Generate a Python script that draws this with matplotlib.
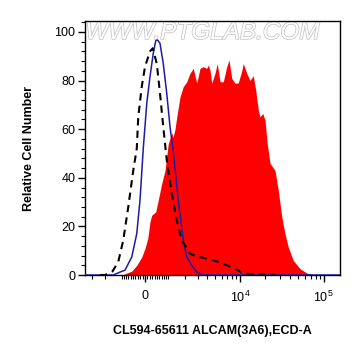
import numpy as np
import matplotlib
matplotlib.use("Agg")
import matplotlib.pyplot as plt
import matplotlib.patheffects as pe
from matplotlib.ticker import MultipleLocator, FixedLocator

plt.rcParams['font.family'] = ['Liberation Sans', 'DejaVu Sans']
plt.rcParams['mathtext.default'] = 'regular'

# histogram data, x in display channels (0-1020), y in % of max
red_ch = [150, 160, 187, 207, 227, 240, 251, 260, 267, 283, 293, 307, 320, 333, 347, 352,
          360, 367, 380, 393, 407, 420, 433, 447, 460, 473, 487, 493, 500, 507, 520, 529,
          540, 553, 567, 576, 587, 600, 613, 627, 633, 647, 660, 673, 683, 693, 700, 711,
          720, 729, 740, 753, 760, 773, 787, 800, 813, 833, 860, 887, 920]
red_val = [0, 0.5, 1.6, 4, 7.4, 11, 15, 22, 24.6, 26, 30.8, 37.7, 43, 54, 58.5, 56.5,
           60, 65, 73.3, 77.5, 79.5, 83, 85, 78.9, 85, 85.7, 85, 86.4, 84.3, 78.9, 83, 87,
           79.5, 79.5, 85.7, 88.5, 80.9, 78.9, 79, 84, 87, 83, 80, 82, 76, 68, 65, 66.5,
           63.7, 54, 46, 44, 43, 35, 24, 17, 11.5, 6, 2.6, 0.8, 0]

blue_ch = [0, 113, 140, 160, 187, 207, 220, 233, 247, 260, 273, 283, 290, 300, 313, 327,
           340, 353, 373, 393, 407, 427, 447, 473, 1020]
blue_val = [0, 0, 1.2, 2, 7.4, 17, 30.8, 52, 70.6, 81.6, 91.2, 96.4, 96.7, 95.3, 87, 74.7,
            61, 51, 30.8, 14.3, 7.4, 4, 1.2, 0, 0]

dash_ch = [60, 80, 110, 133, 153, 173, 193, 207, 213, 227, 240, 260, 271, 287, 300, 313,
           327, 347, 367, 387, 420, 450, 493, 530, 567, 613, 627, 660, 707, 760]
dash_val = [0, 0, 1.5, 5.4, 14.3, 28, 43, 52, 65, 77.5, 85.7, 92, 93.3, 87, 74.7, 61,
            47.3, 33.5, 22.5, 14.3, 8.8, 7.5, 6.7, 5.5, 4, 1.9, 0.8, 0.4, 0.3, 0]

# x axis ticks (fluorescence values) and labels
x_major = [0, 1e4, 1e5]
x_major_labels = ['0', '$10^4$', '$10^5$']
x_minor = ([-v for v in range(100, 1000, 100)] + list(range(100, 1000, 100))
           + [-1000, -2000, -3000] + list(range(1000, 10000, 1000))
           + list(range(20000, 100000, 10000)))


def to_channel(v):
    # biexponential-like display transform
    return 240 + 146 * np.arcsinh(np.asarray(v, dtype=float) / 1494.0)


fig = plt.figure(figsize=(3.61, 3.56), dpi=100)
ax = fig.add_axes([0.2355, 0.2275, 0.7063, 0.7135])

ax.fill_between(red_ch, red_val, 0, color='#ff0000', linewidth=0, zorder=1)
ax.plot(blue_ch, blue_val, color='#1c1ca6', linewidth=1.1, zorder=3)
ax.plot(dash_ch, dash_val, color='black', linewidth=1.5, dashes=(3.5, 2.5), zorder=4)

ax.set_xlim(0, 1020)
ax.set_ylim(0, 104.5)

ax.xaxis.set_major_locator(FixedLocator(to_channel(x_major)))
ax.set_xticklabels(x_major_labels)
ax.xaxis.set_minor_locator(FixedLocator(to_channel(x_minor)))
ax.yaxis.set_major_locator(MultipleLocator(20))
ax.yaxis.set_minor_locator(MultipleLocator(4))

ax.tick_params(axis='both', which='major', labelsize=9, length=5, width=1, color='black')
ax.tick_params(axis='both', which='minor', length=3, width=0.8)
ax.tick_params(axis='x', which='major', pad=6)
ax.tick_params(axis='y', which='major', pad=2)
for s in ax.spines.values():
    s.set_linewidth(1)

ax.set_ylabel('Relative Cell Number', fontsize=9, fontweight='bold', labelpad=14)
ax.set_xlabel('CL594-65611 ALCAM(3A6),ECD-A', fontsize=9, fontweight='bold', labelpad=14)

# watermark
ax.text(0.46, 0.955, 'WWW.PTGLAB.COM', transform=ax.transAxes, ha='center', va='center',
        fontsize=17.5, fontstyle='italic', color='white', zorder=0,
        path_effects=[pe.Stroke(linewidth=1.1, foreground='#c4c4c4'), pe.Normal()])

fig.savefig('out.png', dpi=100)
